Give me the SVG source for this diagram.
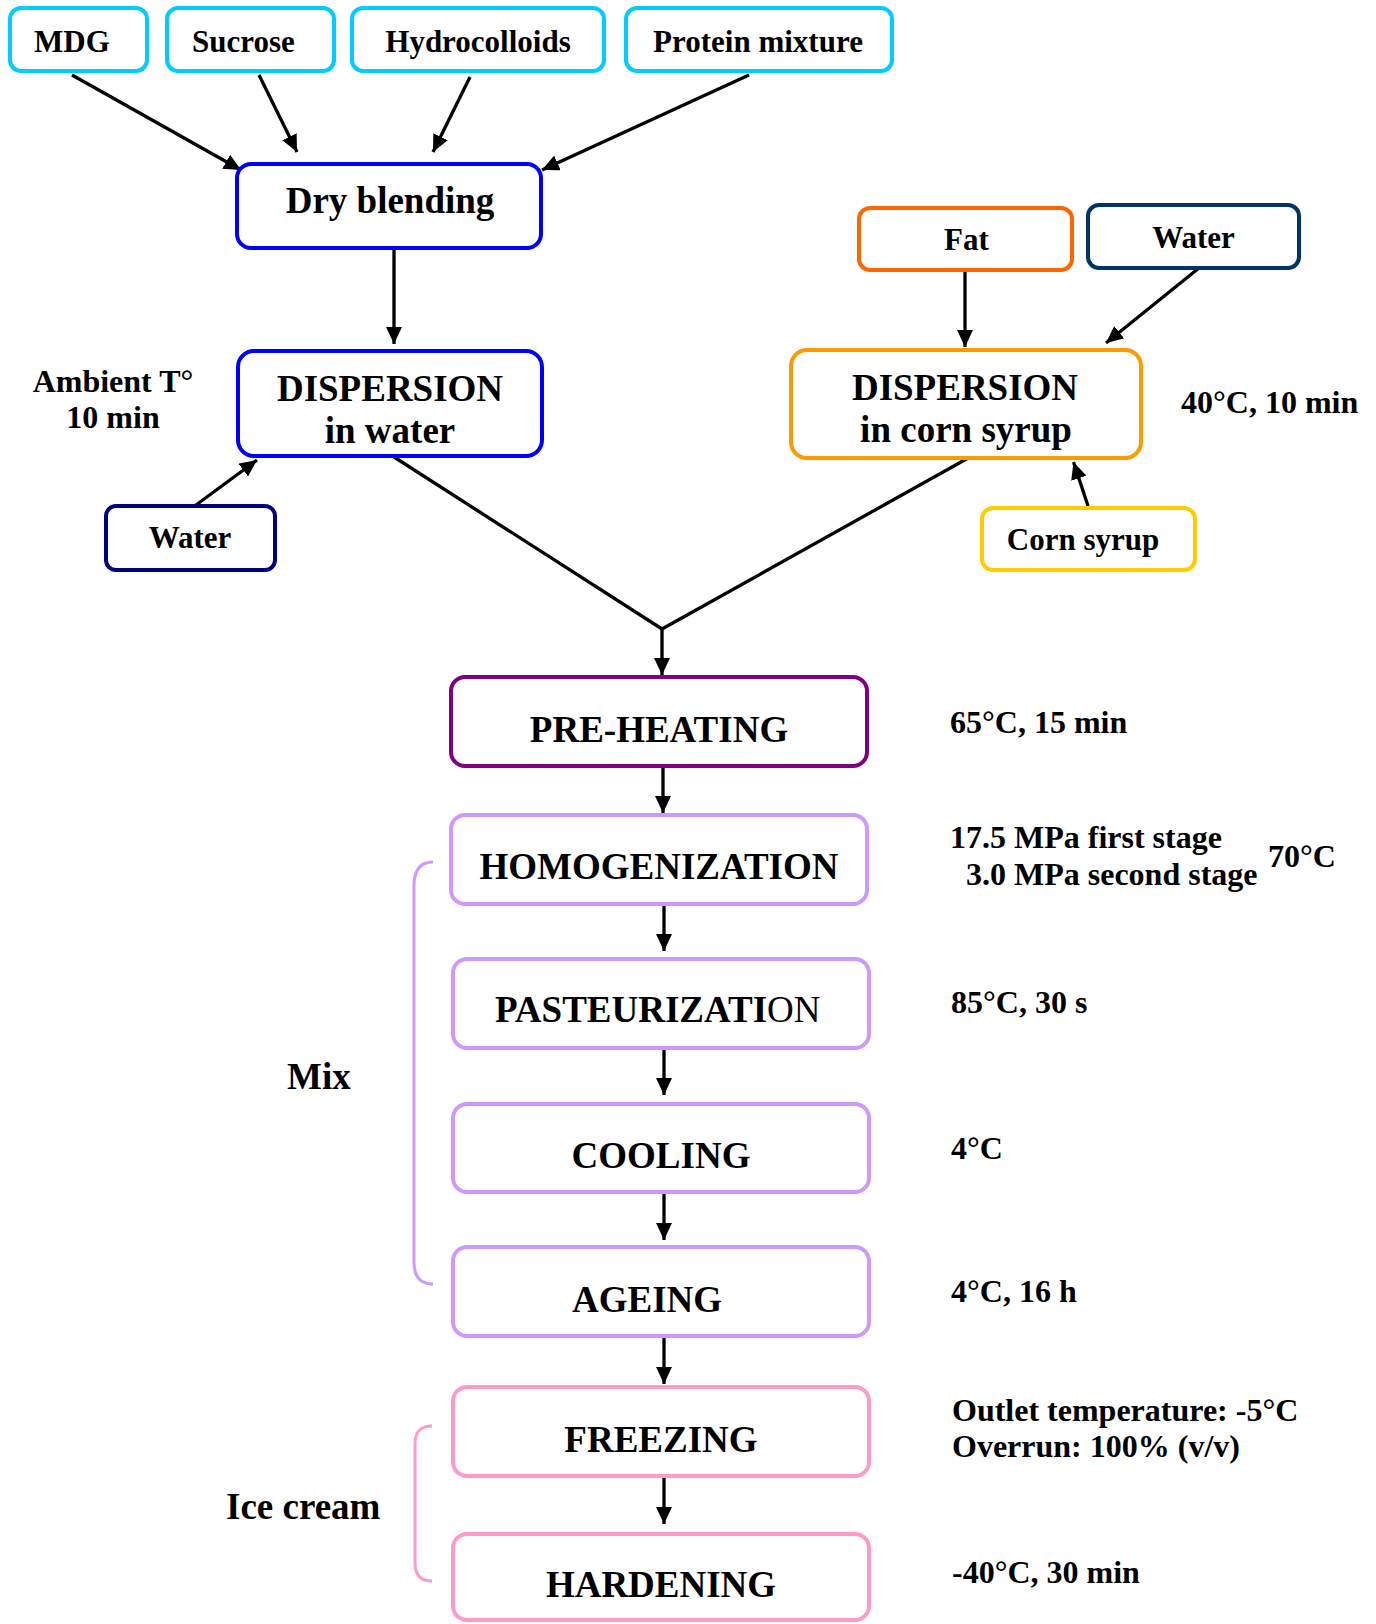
<svg xmlns="http://www.w3.org/2000/svg" width="1376" height="1624" viewBox="0 0 1376 1624">
<defs>
<marker id="ah" markerUnits="userSpaceOnUse" markerWidth="18" markerHeight="16" refX="17" refY="8" orient="auto">
<path d="M0,0 L17,8 L0,16 z" fill="#000"/>
</marker>
<style>
.b{fill:#fff;stroke-width:4}
.t{font-family:"Liberation Serif","Times New Roman",serif;font-weight:bold;fill:#000}
.s{font-size:31px}
.m{font-size:37px}
.l{font-size:32px}
.c{text-anchor:middle}
.cn line,.cn polyline{stroke:#000;stroke-width:3.3;fill:none}
.cyan{stroke:#00CCFF}
.blue{stroke:#0000FF}
.navy{stroke:#000080}
.lp{stroke:#CC99FF}
.pk{stroke:#FF99CC}
</style>
</defs>
<rect width="1376" height="1624" fill="#fff"/>

<g id="connectors" class="cn">
<line x1="72" y1="75" x2="241" y2="170" marker-end="url(#ah)"/>
<line x1="259" y1="75" x2="297" y2="152" marker-end="url(#ah)"/>
<line x1="470" y1="77" x2="433" y2="152" marker-end="url(#ah)"/>
<line x1="749" y1="75" x2="542" y2="170" marker-end="url(#ah)"/>
<line x1="394" y1="250" x2="394" y2="344" marker-end="url(#ah)"/>
<line x1="196" y1="505" x2="257" y2="460" marker-end="url(#ah)"/>
<line x1="965" y1="272" x2="965" y2="347" marker-end="url(#ah)"/>
<line x1="1199" y1="268" x2="1106" y2="343" marker-end="url(#ah)"/>
<line x1="1088" y1="506" x2="1073.5" y2="462" marker-end="url(#ah)"/>
<polyline points="394,457 662,629 970,457"/>
<line x1="662" y1="628" x2="662" y2="675" marker-end="url(#ah)"/>
<line x1="663" y1="768" x2="663" y2="813" marker-end="url(#ah)"/>
<line x1="664" y1="906" x2="664" y2="951" marker-end="url(#ah)"/>
<line x1="664" y1="1050" x2="664" y2="1095" marker-end="url(#ah)"/>
<line x1="664" y1="1194" x2="664" y2="1240" marker-end="url(#ah)"/>
<line x1="664" y1="1338" x2="664" y2="1384" marker-end="url(#ah)"/>
<line x1="664" y1="1478" x2="664" y2="1524" marker-end="url(#ah)"/>
</g>

<g id="n-mdg"><rect class="b cyan" x="10" y="8" width="137" height="63" rx="11"/><text class="t s c" x="72" y="52">MDG</text></g>
<g id="n-sucrose"><rect class="b cyan" x="167" y="8" width="167" height="63" rx="11"/><text class="t s c" x="243.5" y="52">Sucrose</text></g>
<g id="n-hydro"><rect class="b cyan" x="352" y="8" width="252" height="63" rx="11"/><text class="t s c" x="478" y="52">Hydrocolloids</text></g>
<g id="n-protein"><rect class="b cyan" x="626" y="8" width="266" height="63" rx="11"/><text class="t s c" x="758" y="52">Protein mixture</text></g>

<g id="n-dry"><rect class="b blue" x="237" y="164" width="304" height="84" rx="14"/><text class="t m c" x="390" y="213">Dry blending</text></g>
<g id="n-dispw"><rect class="b blue" x="238" y="351" width="304" height="105" rx="16"/><text class="t m c" x="390" y="401">DISPERSION</text><text class="t m c" x="390" y="443">in water</text></g>
<g id="n-waterl"><rect class="b navy" x="106" y="506" width="169" height="64" rx="10"/><text class="t s c" x="190" y="548">Water</text></g>
<g id="lbl-ambient"><text class="t l c" x="113" y="392">Ambient T°</text><text class="t l c" x="113" y="428">10 min</text></g>

<g id="n-fat"><rect class="b" stroke="#FF6600" x="859" y="208" width="213" height="62" rx="11"/><text class="t s c" x="966.5" y="250">Fat</text></g>
<g id="n-waterr"><rect class="b" stroke="#003366" x="1088" y="205" width="211" height="63" rx="11"/><text class="t s c" x="1193.5" y="248">Water</text></g>
<g id="n-dispc"><rect class="b" stroke="#FF9900" x="791" y="350" width="350" height="108" rx="16"/><text class="t m c" x="965" y="400">DISPERSION</text><text class="t m c" x="966" y="442">in corn syrup</text></g>
<g id="n-corn"><rect class="b" stroke="#FFCC00" x="982" y="508" width="213" height="62" rx="11"/><text class="t s c" x="1083" y="550">Corn syrup</text></g>
<g id="lbl-40"><text class="t l" x="1181" y="413">40°C, 10 min</text></g>

<g id="n-preheat"><rect class="b" stroke="#800080" x="451" y="677" width="416" height="89" rx="14"/><text class="t m c" x="659" y="742">PRE-HEATING</text></g>
<g id="lbl-65"><text class="t l" x="950" y="733">65°C, 15 min</text></g>

<g id="n-homog"><rect class="b lp" x="451" y="815" width="416" height="89" rx="14"/><text class="t m c" x="659" y="879">HOMOGENIZATION</text></g>
<g id="lbl-homog"><text class="t l" x="950" y="848">17.5 MPa first stage</text><text class="t l" x="966" y="885">3.0 MPa second stage</text><text class="t l" x="1268" y="867">70°C</text></g>

<g id="n-past"><rect class="b lp" x="453" y="959" width="416" height="89" rx="14"/><text class="t m" x="495" y="1022">PASTEURIZATI<tspan font-weight="normal">ON</tspan></text></g>
<g id="lbl-85"><text class="t l" x="951" y="1013">85°C, 30 s</text></g>

<g id="n-cool"><rect class="b lp" x="453" y="1104" width="416" height="88" rx="14"/><text class="t m c" x="661" y="1168">COOLING</text></g>
<g id="lbl-4"><text class="t l" x="951" y="1159">4°C</text></g>

<g id="n-age"><rect class="b lp" x="453" y="1247" width="416" height="89" rx="14"/><text class="t m c" x="647" y="1312">AGEING</text></g>
<g id="lbl-416"><text class="t l" x="951" y="1302">4°C, 16 h</text></g>

<g id="n-freeze"><rect class="b pk" x="453" y="1387" width="416" height="89" rx="14"/><text class="t m c" x="661" y="1452">FREEZING</text></g>
<g id="lbl-freeze"><text class="t l" x="952" y="1421">Outlet temperature: -5°C</text><text class="t l" x="952" y="1457">Overrun: 100% (v/v)</text></g>

<g id="n-hard"><rect class="b pk" x="453" y="1534" width="416" height="86" rx="14"/><text class="t m c" x="661" y="1597">HARDENING</text></g>
<g id="lbl-40m"><text class="t l" x="952" y="1583">-40°C, 30 min</text></g>

<g id="bracket-mix"><path d="M433,862 C419,862 414,872 414,886 L414,1262 C414,1276 420,1284 433,1284" fill="none" stroke="#CC99FF" stroke-width="3"/><text class="t m" x="287" y="1089">Mix</text></g>
<g id="bracket-ice"><path d="M432,1426 C419,1426 415,1433 415,1444 L415,1563 C415,1574 420,1581 432,1581" fill="none" stroke="#FF99CC" stroke-width="3"/><text class="t m" x="226" y="1519">Ice cream</text></g>
</svg>
